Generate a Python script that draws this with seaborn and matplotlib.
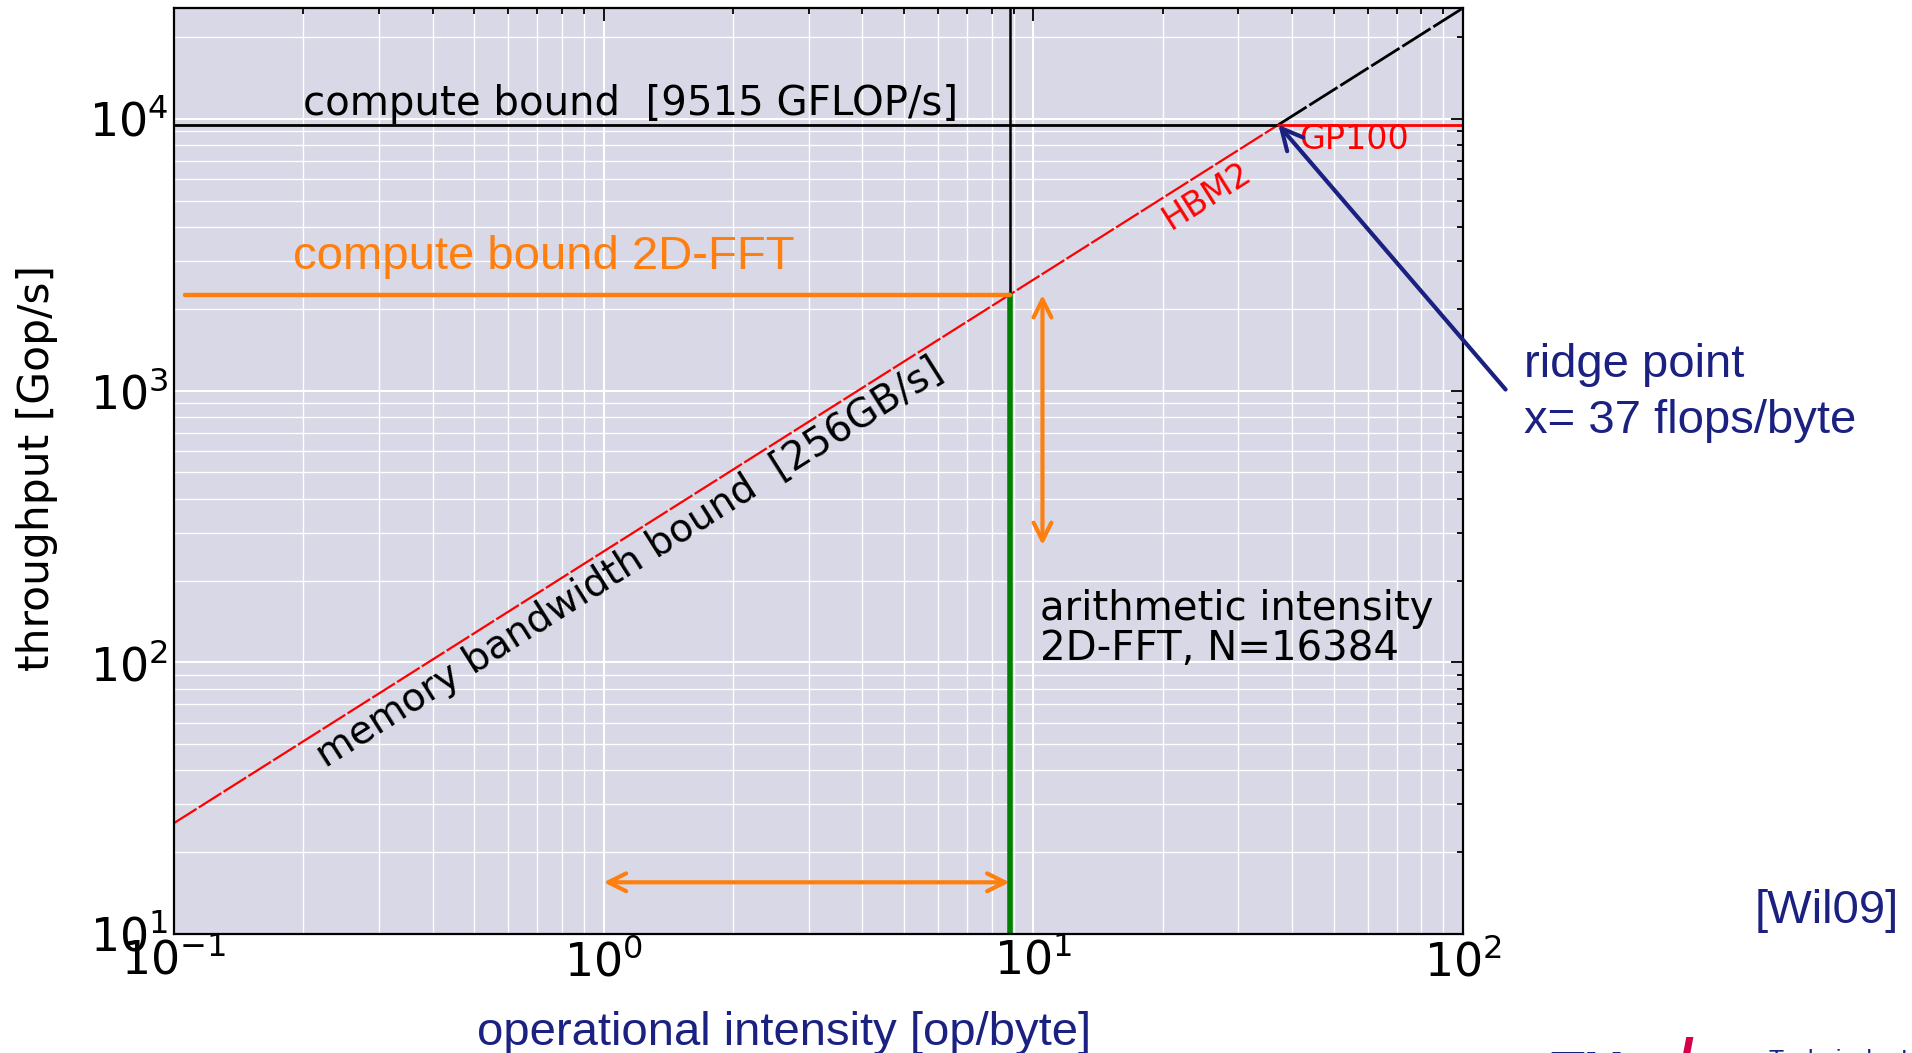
import numpy as np
import pandas as pd
import matplotlib
matplotlib.use("Agg")
import matplotlib.pyplot as plt
import seaborn as sns

# Roofline parameters: GP100 with HBM2 memory
peak_gflops = 9515.0          # compute bound [GFLOP/s]
bandwidth_gbs = 256.0         # memory bandwidth bound [GB/s]
fft_intensity = 8.8           # arithmetic intensity of 2D-FFT, N=16384 [op/byte]
x_limits = [0.1, 100.0]
y_limits = [10.0, 25600.0]
x_ticks = [0.1, 1.0, 10.0, 100.0]
y_ticks = [10.0, 100.0, 1000.0, 10000.0]

# annotation helpers (arrows in data units)
fft_line_start = 0.106
vert_arrow_x = 10.5
vert_arrow_y = [2250.0, 270.0]
horiz_arrow_x = [1.0, 8.8]
horiz_arrow_y = 15.5

ridge = peak_gflops / bandwidth_gbs
fft_perf = bandwidth_gbs * fft_intensity

navy = "#1b2180"
orange = "#ff7f0e"

sns.set_theme(style="darkgrid", rc={
    "axes.facecolor": "#d8d8e6",
    "grid.color": "white",
    "axes.edgecolor": "black",
    "axes.linewidth": 1.6,
})
plt.rcParams["font.family"] = ["DejaVu Sans"]
plt.rcParams["mathtext.fontset"] = "dejavusans"

fig = plt.figure(figsize=(19.12, 10.53), dpi=100)
ax = fig.add_axes([0.0910, 0.1130, 0.6742, 0.8794])
ax.set_xscale("log")
ax.set_yscale("log")
ax.set_xlim(*x_limits)
ax.set_ylim(*y_limits)

# grid: major and minor, white
ax.grid(which="major", color="white", lw=1.5)
ax.grid(which="minor", color="white", lw=1.0)
ax.set_axisbelow(True)

dash = (0, (12, 1.2))

# memory bandwidth roof (red) up to the ridge, continuing in black beyond it
mem = pd.DataFrame({"x": [x_limits[0], ridge],
                    "y": [bandwidth_gbs * x_limits[0], peak_gflops]})
sns.lineplot(data=mem, x="x", y="y", color="red", lw=1.6, linestyle=dash, ax=ax)
mem_ext = pd.DataFrame({"x": [ridge, x_limits[1]],
                        "y": [peak_gflops, bandwidth_gbs * x_limits[1]]})
sns.lineplot(data=mem_ext, x="x", y="y", color="black", lw=2.0, linestyle=dash, ax=ax)

# compute roof: black left of the ridge, red to the right
cmp_left = pd.DataFrame({"x": [x_limits[0], ridge], "y": [peak_gflops, peak_gflops]})
sns.lineplot(data=cmp_left, x="x", y="y", color="black", lw=2.0, ax=ax)
cmp_right = pd.DataFrame({"x": [ridge, x_limits[1]], "y": [peak_gflops, peak_gflops]})
sns.lineplot(data=cmp_right, x="x", y="y", color="red", lw=2.0, ax=ax)

# 2D-FFT operating point
ax.plot([fft_intensity, fft_intensity], [fft_perf, y_limits[1]], color="black", lw=1.8)
ax.plot([fft_intensity, fft_intensity], [y_limits[0], fft_perf], color="green", lw=4.0)
sns.lineplot(x=[fft_line_start, fft_intensity], y=[fft_perf, fft_perf],
             color=orange, lw=3.2, ax=ax)

arrow_kw = dict(arrowstyle="<->", color=orange, lw=3, mutation_scale=32,
                shrinkA=0, shrinkB=0)
ax.annotate("", xy=(vert_arrow_x, vert_arrow_y[0]), xytext=(vert_arrow_x, vert_arrow_y[1]),
            arrowprops=arrow_kw)
ax.annotate("", xy=(horiz_arrow_x[0], horiz_arrow_y), xytext=(horiz_arrow_x[1], horiz_arrow_y),
            arrowprops=arrow_kw)

# text labels
fig.canvas.draw()
p1 = ax.transData.transform((1.0, bandwidth_gbs))
p2 = ax.transData.transform((10.0, bandwidth_gbs * 10))
angle = np.degrees(np.arctan2(p2[1] - p1[1], p2[0] - p1[0]))

ax.text(0.2, 10350, "compute bound  [9515 GFLOP/s]", fontsize=29,
        color="black", ha="left", va="baseline")
ax.text(0.189, 2812, "compute bound 2D-FFT", fontsize=34, color=orange,
        family="Liberation Sans", ha="left", va="baseline")
ax.text(1.15, 232, "memory bandwidth bound  [256GB/s]", fontsize=28, color="black",
        rotation=angle, rotation_mode="anchor", ha="center", va="center")
ax.text(25.4, 5200, "HBM2", fontsize=24, color="red",
        rotation=angle, rotation_mode="anchor", ha="center", va="center")
ax.text(41.5, 8380, "GP100", fontsize=24, color="red", ha="left", va="center")
ax.text(10.35, 142.6, "arithmetic intensity", fontsize=29, color="black",
        ha="left", va="baseline")
ax.text(10.35, 102, "2D-FFT, N=16384", fontsize=29, color="black",
        ha="left", va="baseline")

# ridge point callout
ax.annotate("", xy=(ridge, peak_gflops), xytext=(1.033, 0.588),
            textcoords="axes fraction", annotation_clip=False,
            arrowprops=dict(arrowstyle="->", color=navy, lw=3, mutation_scale=38,
                            shrinkA=0, shrinkB=0))
fig.text(0.797, 0.642, "ridge point", fontsize=34, color=navy,
         family="Liberation Sans", ha="left", va="baseline")
fig.text(0.797, 0.589, "x= 37 flops/byte", fontsize=34, color=navy,
         family="Liberation Sans", ha="left", va="baseline")
fig.text(0.993, 0.1235, "[Wil09]", fontsize=34, color=navy,
         family="Liberation Sans", ha="right", va="baseline")

# axes labels
ax.set_xlabel("operational intensity [op/byte]", fontsize=34, color=navy,
              family="Liberation Sans")
ax.xaxis.set_label_coords(0.473, -0.120)
ax.xaxis.label.set_va("baseline")
ax.set_ylabel("throughput [Gop/s]", fontsize=30.5, color="black")
ax.yaxis.set_label_coords(-0.106, 0.503)
ax.yaxis.label.set_va("center")

ax.set_xticks(x_ticks)
ax.set_yticks(y_ticks)
ax.tick_params(which="both", direction="in", top=True, right=True,
               color="black", width=1.3)
ax.tick_params(which="major", length=9, labelsize=33, labelcolor="black", pad=4)
ax.tick_params(which="minor", length=4.5)
for s in ax.spines.values():
    s.set_color("black")
    s.set_linewidth(1.6)

# institute logo at the lower edge
fig.text(0.811, 0.003, "TU", fontsize=40, fontweight="bold", color=navy,
         family="Liberation Sans", ha="left", va="top")
fig.text(0.877, 0.016, "/", fontsize=44, fontweight="bold", color="#d6004a",
         family="Liberation Sans", ha="left", va="top")
fig.text(0.925, 0.004, "Technische Universiteit", fontsize=18, color=navy,
         family="Liberation Sans", ha="left", va="top")

fig.savefig("out.png", dpi=100)
